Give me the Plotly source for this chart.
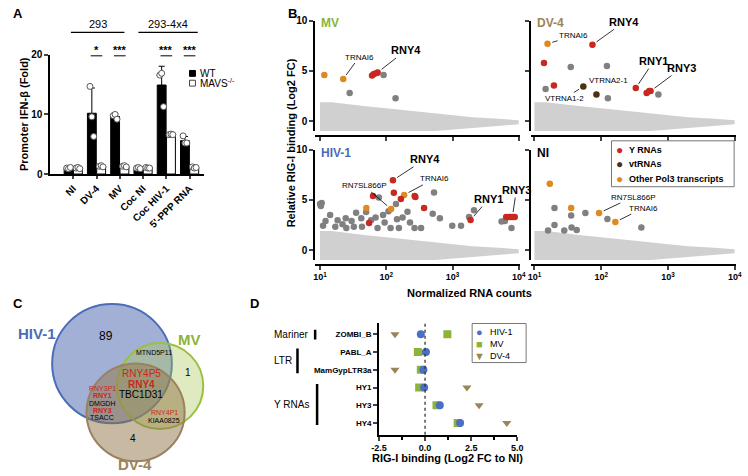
import numpy as np
import plotly.graph_objects as go

W, H = 748, 476
FONT = "Arial, Liberation Sans, sans-serif"
RED, ORANGE, BROWN, GRAY, CLOUD = "#c8281f", "#e0891f", "#4a3212", "#808080", "#d0d0d0"
BLUE, GREEN, TAN = "#4b6cb7", "#8db33a", "#9c8459"


def px(x):
    return x / W


def py(y):
    return 1 - y / H


# ---------------- panel A data
a_categories = ["NI", "DV-4", "MV", "Coc NI", "Coc HIV-1", "5'-PPP RNA"]
a_wt_reps = [[1.0, 0.9, 1.1], [14.7, 9.6, 6.3], [9.8, 10.0, 9.2],
             [1.0, 1.1, 0.9], [16.6, 16.9, 11.3], [6.4, 5.2, 5.2]]
a_mavs_reps = [[1.0, 1.1, 0.9], [1.3, 1.4, 1.2], [1.3, 1.4, 1.2],
               [1.1, 1.0, 1.0], [6.6, 6.7, 6.6], [1.2, 1.0, 1.1]]
a_sig = ["", "*", "***", "", "***", "***"]

# ---------------- panel B data (normalized counts, log2 FC)
cloud_counts = [10, 15, 20, 30, 50, 100, 200, 500, 1000, 2000, 5000, 10000]
cloud_upper = [1.9, 1.9, 1.8, 1.7, 1.5, 1.3, 1.1, 0.8, 0.6, 0.4, 0.25, 0.1]
cloud_lower = [-1.2, -1.2, -1.2, -1.2, -1.2, -1.2, -1.2, -0.95, -0.8, -0.65, -0.45, -0.3]

mv_gray_x = [91, 28, 138]
mv_gray_y = [4.6, 2.8, 2.3]
mv_yrna_x = [61, 65, 72, 74]
mv_yrna_y = [4.56, 4.7, 4.8, 4.85]
mv_pol3_x = [11.6, 22.4]
mv_pol3_y = [4.6, 4.2]

dv_gray_x = [35, 122, 14.7, 126, 720]
dv_gray_y = [5.4, 5.5, 3.2, 2.3, 2.65]
dv_yrna_x = [74, 13.9, 19.6, 330, 480, 525, 550]
dv_yrna_y = [7.6, 5.8, 3.55, 3.3, 2.8, 3.0, 3.0]
dv_vt_x = [54, 85]
dv_vt_y = [3.45, 2.65]
dv_pol3_x = [15.7]
dv_pol3_y = [7.7]

hiv_gray_x = [10.0, 10.3, 10.6, 11.1, 12.1, 14.2, 17.0, 18.4, 21.8, 24.4, 24.9, 29.9, 32.4,
              35.0, 41.9, 42.9, 49.6, 58.8, 68.9, 73.8, 89.4, 94.4, 108, 116, 140, 145,
              155, 176, 209, 228, 267, 335, 502, 525, 644, 990, 1343, 1778, 2107, 77.1,
              5500, 6166, 7762]
hiv_gray_y = [4.6, 4.4, 4.7, 2.43, 2.91, 3.5, 2.33, 2.98, 2.59, 3.17, 2.2, 2.91, 2.33,
              3.72, 3.17, 2.33, 3.79, 2.98, 3.24, 2.2, 3.5, 2.75, 3.88, 2.2, 4.59, 3.08,
              2.2, 3.24, 3.82, 2.75, 2.2, 2.2, 3.62, 5.73, 3.17, 2.43, 2.43, 3.3, 3.98, 5.24,
              2.85, 2.9, 2.2]
hiv_yrna_x = [126, 63, 130, 166, 268, 275, 372, 55, 1870, 6450, 7080, 7590, 8130, 8700]
hiv_yrna_y = [6.95, 5.4, 5.7, 5.1, 5.4, 5.3, 4.2, 2.7, 3.0, 3.3, 3.3, 3.3, 3.3, 3.3]
hiv_pol3_x = [50, 118, 186]
hiv_pol3_y = [4.2, 4.1, 5.5]

ni_gray_x = [20, 35.5, 58, 124, 20, 16, 28, 36, 43, 400]
ni_gray_y = [4.2, 3.45, 3.7, 3.1, 2.5, 1.95, 1.95, 2.25, 2.0, 2.25]
ni_pol3_x = [17, 35.5, 93, 163]
ni_pol3_y = [6.6, 4.2, 3.7, 2.8]

# ---------------- panel C data
venn_names = ["HIV-1", "MV", "DV-4"]
venn_counts = ["89", "1", "4"]

# ---------------- panel D data
d_elements = ["ZOMBI_B", "PABL_A", "MamGypLTR3a", "HY1", "HY3", "HY4"]
d_hiv = [-0.23, 0.05, -0.09, -0.05, 0.80, 1.90]
d_mv = [1.21, -0.39, -0.23, -0.32, 0.62, 1.77]
d_dv = [-1.63, -0.18, -1.63, 2.27, 2.93, 4.43]

fig = go.Figure()
annotations = []
shapes = []


def note(text, x, y, size=10, color="black", xanchor="center", **kw):
    annotations.append(dict(text=text, x=x, y=y, xref="paper", yref="paper",
                            showarrow=False, xanchor=xanchor, yanchor="middle",
                            font=dict(size=size, color=color, family=FONT), **kw))


def box(x0, y0, x1, y1, fill="white", line="black", width=1):
    shapes.append(dict(type="rect", xref="paper", yref="paper", x0=px(x0), x1=px(x1),
                       y0=py(y1), y1=py(y0), fillcolor=fill,
                       line=dict(color=line, width=width)))


# ================= A
idx = np.arange(len(a_categories))
for reps, shift, name, fill in ((a_wt_reps, -0.2, "WT", "black"),
                                (a_mavs_reps, 0.2, "MAVS", "white")):
    fig.add_trace(go.Bar(
        x=idx + shift, y=[np.mean(r) for r in reps], width=0.38, name=name,
        marker=dict(color=fill, line=dict(color="black", width=1)),
        error_y=dict(type="data", array=[np.std(r, ddof=1) for r in reps],
                     color="black", thickness=1, width=3),
        showlegend=False, xaxis="x", yaxis="y"))
offs = [-0.08, 0, 0.08]
for reps, shift in ((a_wt_reps, -0.2), (a_mavs_reps, 0.2)):
    xs = [i + shift + offs[k] for i, r in enumerate(reps) for k in range(len(r))]
    ys = [v for r in reps for v in r]
    fig.add_trace(go.Scatter(
        x=xs, y=ys, mode="markers", showlegend=False, cliponaxis=False,
        marker=dict(size=6, color="white", line=dict(color="#555", width=1)),
        xaxis="x", yaxis="y"))

for i, s in enumerate(a_sig):
    if s:
        shapes.append(dict(type="line", xref="x", yref="paper", x0=i - 0.25, x1=i + 0.25,
                           y0=py(51), y1=py(51), line=dict(color="black", width=1)))
        note("<b>%s</b>" % s, 0, py(45), size=11)
        annotations[-1].update(x=i, xref="x")
for x0, x1, label in ((-0.1, 2.2, "293"), (2.8, 5.35, "293-4x4")):
    shapes.append(dict(type="line", xref="x", yref="paper", x0=x0, x1=x1,
                       y0=py(27), y1=py(27), line=dict(color="black", width=1.2)))
    note(label, 0, py(18), size=11)
    annotations[-1].update(x=(x0 + x1) / 2, xref="x")
# legend A
box(185, 66, 191, 72, fill="black")
box(185, 76, 191, 82, fill="white", line="#444")
note("WT", px(194), py(69), size=10, xanchor="left")
note("MAVS<sup>-/-</sup>", px(194), py(79), size=10, xanchor="left")
note("<b>A</b>", px(3), py(8), size=13, xanchor="left")
note("<b>Promoter IFN-β (Fold)</b>", px(17), py(111), size=11, textangle=-90)

# ================= B
def b_panel(n, gray, yrna, vt, pol3):
    xa, ya = "x%d" % n, "y%d" % n
    fig.add_trace(go.Scatter(
        x=cloud_counts + cloud_counts[::-1], y=cloud_upper + cloud_lower[::-1],
        fill="toself", fillcolor=CLOUD, line=dict(width=0), mode="lines",
        hoverinfo="skip", showlegend=False, xaxis=xa, yaxis=ya))
    for data, col in ((gray, GRAY), (pol3, ORANGE), (vt, BROWN), (yrna, RED)):
        if data is None:
            continue
        fig.add_trace(go.Scatter(
            x=data[0], y=data[1], mode="markers", marker=dict(size=6.5, color=col),
            showlegend=False, xaxis=xa, yaxis=ya))


b_panel(2, (mv_gray_x, mv_gray_y), (mv_yrna_x, mv_yrna_y), None, (mv_pol3_x, mv_pol3_y))
b_panel(3, (dv_gray_x, dv_gray_y), (dv_yrna_x, dv_yrna_y), (dv_vt_x, dv_vt_y), (dv_pol3_x, dv_pol3_y))
b_panel(4, (hiv_gray_x, hiv_gray_y), (hiv_yrna_x, hiv_yrna_y), None, (hiv_pol3_x, hiv_pol3_y))
b_panel(5, (ni_gray_x, ni_gray_y), None, None, (ni_pol3_x, ni_pol3_y))

b_labels = [
    (2, 22.4, 4.2, "TRNAI6", 16, -22, False), (2, 74, 4.85, "RNY4", 28, -22, True),
    (3, 15.7, 7.7, "TRNAI6", 26, -8, False), (3, 74, 7.6, "RNY4", 32, -23, True),
    (3, 54, 3.45, "VTRNA1-2", -19, 12, False),
    (3, 330, 3.3, "RNY1", 18, -27, True), (3, 550, 3.0, "RNY3", 31, -23, True),
    (4, 126, 6.95, "RNY4", 32, -21, True), (4, 118, 4.1, "RN7SL866P", -27, -23, False),
    (4, 186, 5.5, "TRNAI6", 30, -16, False), (4, 1870, 3.0, "RNY1", 18, -21, True),
    (4, 8000, 3.3, "RNY3", 4, -27, True),
    (5, 93, 3.7, "RN7SL866P", 34, -16, False), (5, 163, 2.8, "TRNAI6", 28, -14, False),
]
for n, xv, yv, text, ax, ay, bold in b_labels:
    annotations.append(dict(
        x=np.log10(xv), y=yv, xref="x%d" % n, yref="y%d" % n, ax=ax, ay=ay,
        text="<b>%s</b>" % text if bold else text, showarrow=True, arrowhead=0,
        arrowwidth=0.8, arrowcolor="black", standoff=5,
        font=dict(size=11 if bold else 8, color="black", family=FONT)))
annotations.append(dict(x=np.log10(85), y=2.65, xref="x3", yref="y3", text="VTRNA2-1",
                        showarrow=False, xanchor="left", xshift=-9, yshift=14,
                        font=dict(size=8, color="black", family=FONT)))

for t, x, y, c in (("MV", 317, 17, GREEN), ("DV-4", 537, 17, TAN),
                   ("HIV-1", 317, 150, BLUE), ("NI", 537, 150, "black")):
    note("<b>%s</b>" % t, px(x), py(y), size=12, color=c, xanchor="left")
note("<b>B</b>", px(283), py(8), size=13, xanchor="left")
note("<b>Relative RIG-I binding (Log2 FC)</b>", px(288), py(140), size=11, textangle=-90)
note("<b>Normalized RNA counts</b>", px(470), py(294), size=11)
# legend B
box(615, 138, 740, 185, line="#777")
for k, (lab, col) in enumerate((("Y RNAs", RED), ("vtRNAs", BROWN),
                                ("Other Pol3 transcripts", ORANGE))):
    note("●", px(623), py(147 + 15 * k), size=12, color=col)
    note("<b>%s</b>" % lab, px(631), py(147 + 15 * k), size=9, xanchor="left")

# ================= C
venn_cx = [106, 155, 130]
venn_cy = [366, 389, 416]
venn_r = [61, 44, 50]
venn_fill = ["rgba(85,112,180,0.55)", "rgba(170,200,90,0.38)", "rgba(145,115,70,0.5)"]
venn_edge = ["#4a6db8", "#9bc040", "#9a8160"]
for cx, cy, r, f, e in zip(venn_cx, venn_cy, venn_r, venn_fill, venn_edge):
    shapes.append(dict(type="circle", xref="x6", yref="y6", x0=cx - r, x1=cx + r,
                       y0=cy - r, y1=cy + r, fillcolor=f, line=dict(color=e, width=2)))
venn_text = [
    ("<b>HIV-1</b>", 30, 335, 15, BLUE), ("<b>MV</b>", 185, 341, 15, GREEN),
    ("<b>DV-4</b>", 129, 469, 15, TAN),
    (venn_counts[0], 100, 338, 12, "black"), (venn_counts[1], 183, 375, 10, "black"),
    (venn_counts[2], 127, 443, 10, "black"),
    ("MTND5P11", 149, 355, 7, "black"),
    ("RNY4P5", 136, 376, 10, RED), ("<b>RNY4</b>", 136, 387, 10, RED),
    ("TBC1D31", 136, 398, 10, "black"),
    ("RNY3P1", 96, 392, 7, RED), ("<b>RNY1</b>", 96, 399, 7, RED),
    ("DMGDH", 96, 407, 7, "black"), ("<b>RNY3</b>", 96, 414, 7, RED),
    ("TSACC", 96, 421, 7, "black"),
    ("RNY4P1", 159, 416, 7, RED), ("KIAA0825", 159, 424, 7, "black"),
]
for t, x, y, s, c in venn_text:
    note(t, px(x), py(y), size=s, color=c)
note("<b>C</b>", px(3), py(305), size=13, xanchor="left")

# ================= D
d_idx = list(range(len(d_elements)))
d_series = (("HIV-1", d_hiv, "circle", "#4b6fc4", "●"),
            ("MV", d_mv, "square", GREEN, "■"),
            ("DV-4", d_dv, "triangle-down", TAN, "▼"))
for name, vals, sym, col, glyph in reversed(d_series):
    fig.add_trace(go.Scatter(
        x=vals, y=d_idx, mode="markers", name=name, showlegend=False,
        marker=dict(symbol=sym, size=8, color=col), xaxis="x7", yaxis="y7"))
shapes.append(dict(type="line", xref="x7", yref="y7 domain", x0=0, x1=0, y0=0, y1=1,
                   line=dict(color="#333", width=1.3, dash="dot")))
for label, y0, y1, bx, tx in (("Mariner", -0.25, 0.3, 313, 269),
                              ("LTR", 0.8, 2.2, 295, 269),
                              ("Y RNAs", 2.8, 5.1, 315, 269)):
    shapes.append(dict(type="line", xref="paper", yref="y7", x0=px(bx), x1=px(bx),
                       y0=y0, y1=y1, line=dict(color="black", width=2.5)))
    note(label, px(tx), 0, size=10, xanchor="left")
    annotations[-1].update(y=(y0 + y1) / 2, yref="y7")
# legend D
box(473, 325, 528, 365, line="#777")
for k, (name, vals, sym, col, glyph) in enumerate(d_series):
    note(glyph, px(481), py(334 + 12 * k), size=11, color=col)
    note(name, px(489), py(334 + 12 * k), size=9, xanchor="left")
note("<b>D</b>", px(245), py(305), size=13, xanchor="left")
note("<b>RIG-I binding (Log2 FC to NI)</b>", px(448), py(463), size=11)

# ================= layout
line_ax = dict(showline=True, linecolor="black", linewidth=1.5, ticks="outside",
               tickwidth=1.5, ticklen=4, showgrid=False, zeroline=False,
               tickfont=dict(size=9, family=FONT, weight="bold", color="black"))

layout = dict(
    width=W, height=H, margin=dict(l=0, r=0, t=0, b=0), showlegend=False,
    paper_bgcolor="white", plot_bgcolor="white", barmode="overlay",
    font=dict(family=FONT, color="black"),
    annotations=annotations, shapes=shapes,
    xaxis=dict(line_ax, domain=[px(43), px(200)], range=[-0.99, 5.63],
               tickvals=list(idx), ticktext=a_categories, tickangle=-45, ticklen=3,
               tickfont=dict(size=10, family=FONT, weight="bold", color="black"),
               anchor="y"),
    yaxis=dict(line_ax, domain=[py(172), py(50)], range=[0, 20], tickvals=[0, 10, 20],
               tickfont=dict(size=10, family=FONT, weight="bold", color="black"),
               anchor="x"),
    xaxis6=dict(domain=[0, px(230)], range=[0, 230], visible=False, anchor="y6"),
    yaxis6=dict(domain=[0, py(290)], range=[476, 290], visible=False, anchor="x6"),
    xaxis7=dict(line_ax, domain=[px(378), px(519)], range=[-2.5, 5.0],
                tickvals=[-2.5, 0, 2.5, 5.0], ticktext=["-2.5", "0.0", "2.5", "5.0"],
                minor=dict(tickvals=[-1.25, 1.25, 3.75], ticks="outside", ticklen=3,
                           tickwidth=1.5, tickcolor="black"),
                anchor="y7"),
    yaxis7=dict(line_ax, domain=[py(439), py(324)], range=[5.66, -0.66],
                tickvals=d_idx, ticktext=d_elements, ticklen=4, anchor="x7",
                tickfont=dict(size=8, family=FONT, weight="bold", color="black")),
)

b_geom = {2: (313, 522, 15, 128, 133, 0.926, True, False),
          3: (533, 742, 15, 128, 133, 0.949, False, False),
          4: (313, 522, 147, 260, 265, 0.926, True, True),
          5: (533, 742, 147, 260, 265, 0.949, False, True)}
for n, (x0, x1, y0, y1, xline, lo, ylab, xlab) in b_geom.items():
    layout["xaxis%d" % n] = dict(
        line_ax, type="log", domain=[px(x0), px(x1)], range=[lo, 4.022],
        tickvals=[10, 100, 1000, 10000], showticklabels=xlab,
        ticktext=["10<sup>1</sup>", "10<sup>2</sup>", "10<sup>3</sup>", "10<sup>4</sup>"],
        anchor="free", position=py(xline))
    layout["yaxis%d" % n] = dict(
        line_ax, domain=[py(y1), py(y0)], range=[-0.97, 10], tickvals=[0, 5, 10],
        showticklabels=ylab, anchor="x%d" % n,
        tickfont=dict(size=10, family=FONT, weight="bold", color="black"))

fig.update_layout(**layout)
fig.write_html("out.html", config={"displayModeBar": False},
               post_script="document.body.style.margin='0px';")
